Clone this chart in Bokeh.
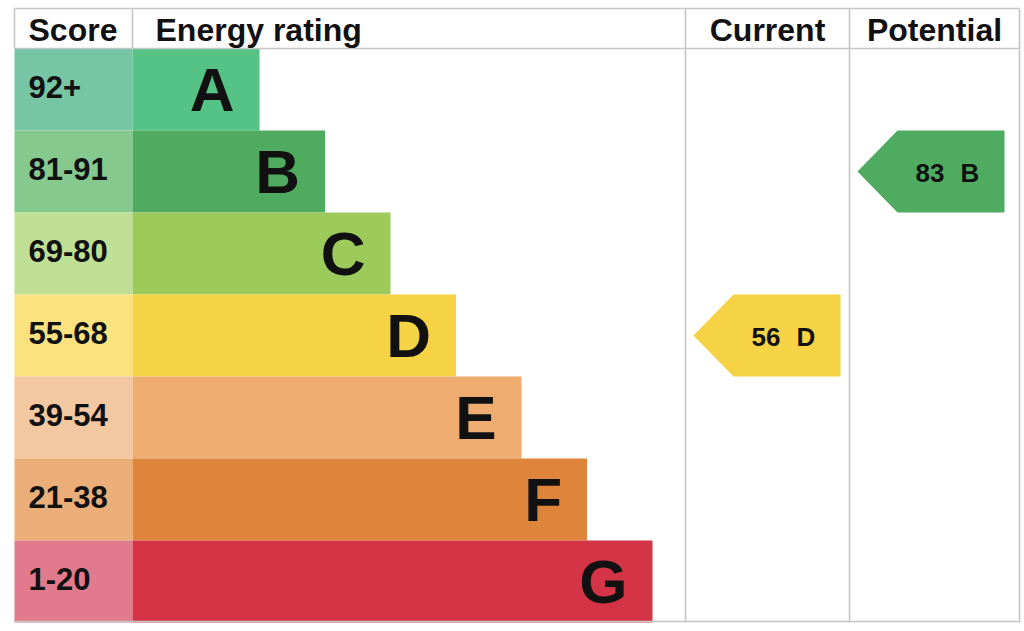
from bokeh.plotting import figure
from bokeh.models import Range1d
from bokeh.core.properties import value
from bokeh.embed import file_html
from bokeh.resources import INLINE

# EPC bands, best to worst
ratings = ["A", "B", "C", "D", "E", "F", "G"]
score_labels = ["92+", "81-91", "69-80", "55-68", "39-54", "21-38", "1-20"]
band_lower = [92, 81, 69, 55, 39, 21, 1]
bar_colors = ["#55c385", "#4fab60", "#9ccb5b", "#f6d245", "#eeac70", "#de843b", "#d43446"]
score_colors = ["#76c5a4", "#86c98f", "#bedf94", "#fae27e", "#f3c8a1", "#ebae79", "#e07a8c"]

current_score = 56
potential_score = 83

columns = ["Score", "Energy rating", "Current", "Potential"]

FONT = value("Liberation Sans")

# layout (page pixels)
left, top, right = 14, 8, 1019
header_h = 40
row_h = 82
col_edges = [14, 132, 685, 849, 1019]
bar_min, bar_step = 127, 65.5
arrow_w = 147


def band_of(score):
    for i, lo in enumerate(band_lower):
        if score >= lo:
            return i
    return len(band_lower) - 1


p = figure(width=1024, height=631, x_range=Range1d(0, 1024), y_range=Range1d(631, 0),
           output_backend="svg", toolbar_location=None, min_border=0,
           x_axis_type=None, y_axis_type=None, outline_line_color=None)
p.grid.visible = False

row_top = [top + header_h + row_h * i for i in range(len(ratings))]
row_mid = [t + row_h / 2 for t in row_top]
bar_end = [col_edges[1] + bar_min + bar_step * i for i in range(len(ratings))]

# score cells and rating bars
p.quad(left=[col_edges[0]] * 7, right=[col_edges[1]] * 7, top=row_top,
       bottom=[t + row_h for t in row_top], fill_color=score_colors, line_color=None)
p.quad(left=[col_edges[1]] * 7, right=bar_end, top=row_top,
       bottom=[t + row_h for t in row_top], fill_color=bar_colors, line_color=None)

# score labels and letters
p.text(x=[28] * 7, y=[m - 3 for m in row_mid], text=score_labels, text_font=FONT,
       text_font_style="bold", text_font_size="31px", text_align="left",
       text_baseline="alphabetic", text_color="#111111")
p.text(x=[e - 25 for e in bar_end], y=row_mid, text=ratings, text_font=FONT,
       text_font_style="bold", text_font_size="62px", text_align="right",
       text_baseline="alphabetic", text_color="#111111")

# grid lines
line_col = "#c6c6c6"
x0s = [left, left, left, left, col_edges[1], col_edges[2], col_edges[3], right]
x1s = [right, right, right, left, col_edges[1], col_edges[2], col_edges[3], right]
y0s = [top, top + header_h, top + header_h + 7 * row_h - 1, top, top, top, top, top]
y1s = [top, top + header_h, top + header_h + 7 * row_h - 1, top + header_h, top + header_h,
       top + header_h + 7 * row_h, top + header_h + 7 * row_h, top + header_h + 7 * row_h]
p.segment(x0=x0s, y0=y0s, x1=x1s, y1=y1s, line_color=line_col, line_width=1.6)

# header texts
hx = [28, 155, (col_edges[2] + col_edges[3]) / 2, (col_edges[3] + col_edges[4]) / 2]
halign = ["left", "left", "center", "center"]
for x, t, a in zip(hx, columns, halign):
    p.text(x=[x], y=[top + 21], text=[t], text_font=FONT, text_font_style="bold",
           text_font_size="32px", text_align=a, text_baseline="alphabetic",
           text_color="#111111")

# current / potential arrows
for score, c in [(current_score, 2), (potential_score, 3)]:
    b = band_of(score)
    t = row_top[b]
    tip = col_edges[c] + 8
    r = tip + arrow_w
    p.patches(xs=[[tip, tip + 40, r, r, tip + 40]],
              ys=[[t + row_h / 2, t, t, t + row_h, t + row_h]],
              fill_color=bar_colors[b], line_color=None)
    p.text(x=[r - 60], y=[row_mid[b] + 1], text=[str(score)], text_font=FONT,
           text_font_style="bold", text_font_size="26px", text_align="right",
           text_baseline="alphabetic", text_color="#111111")
    p.text(x=[r - 44], y=[row_mid[b] + 1], text=[ratings[b]], text_font=FONT,
           text_font_style="bold", text_font_size="26px", text_align="left",
           text_baseline="alphabetic", text_color="#111111")

open("out.html", "w").write(file_html(p, INLINE))
